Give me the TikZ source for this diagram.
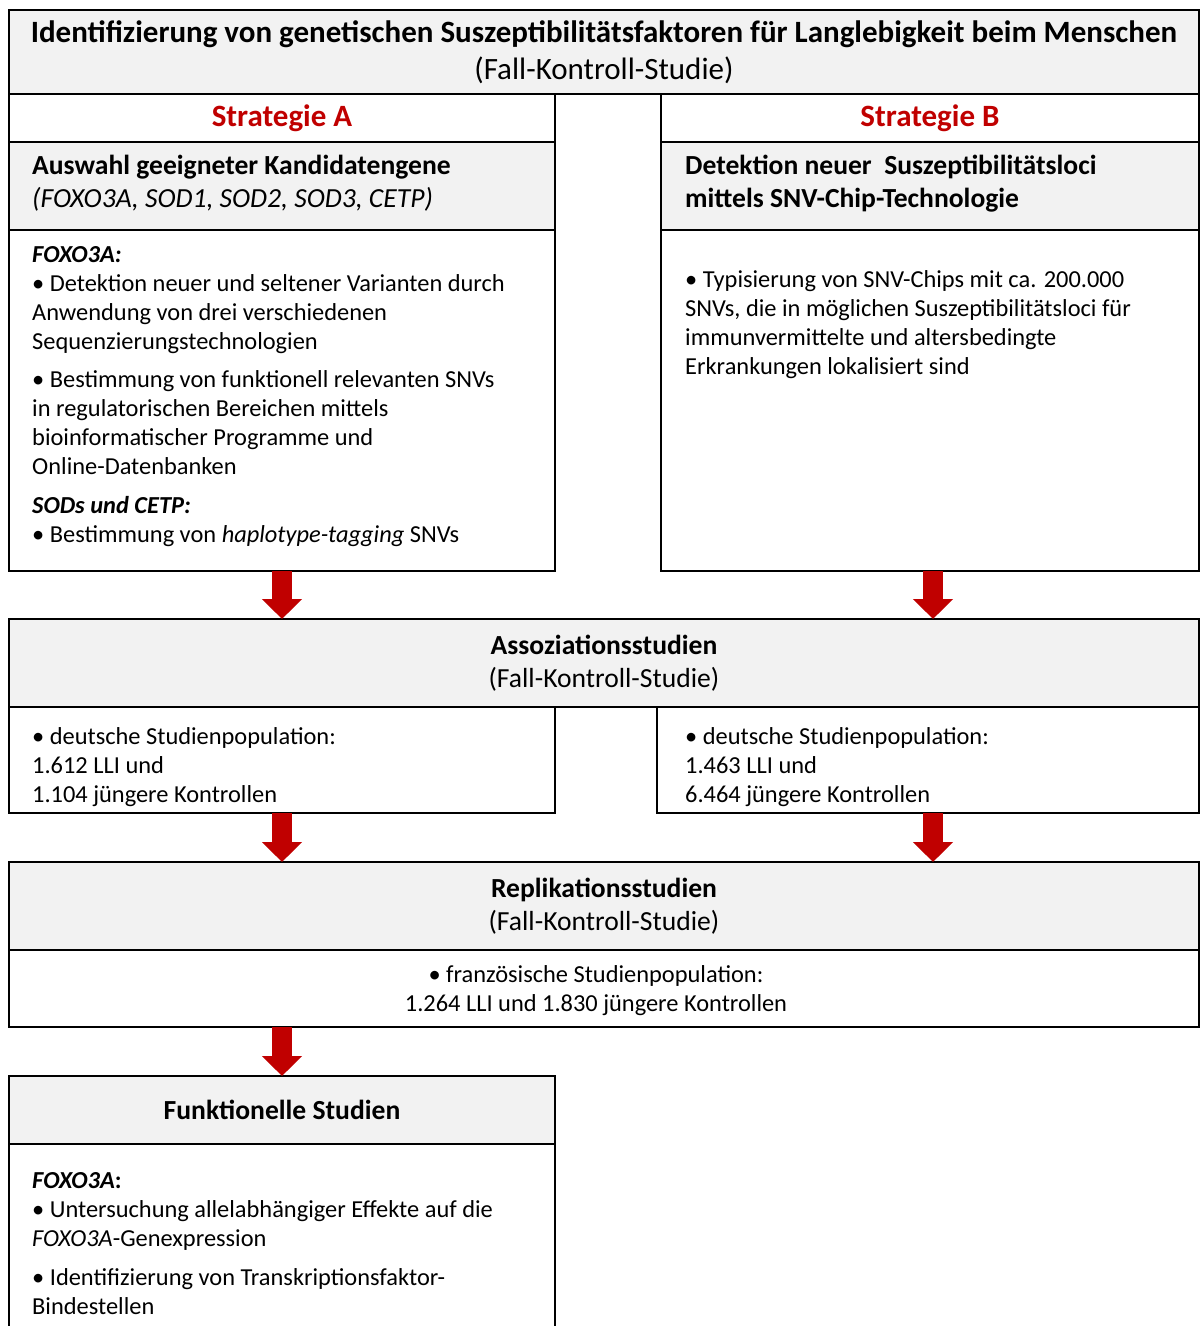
\documentclass[tikz,border=0pt]{standalone}
\usepackage{fontspec}
\setmainfont{Carlito}
\usetikzlibrary{arrows.meta}
\definecolor{boxgray}{HTML}{F2F2F2}
\definecolor{stratred}{HTML}{C00000}
\newcommand{\bodyfont}{\fontsize{24.4}{29}\selectfont}
\newcommand{\headfont}{\fontsize{27.6}{33}\selectfont}
\newcommand{\bigfont}{\fontsize{31}{37}\selectfont}

\begin{document}
\begin{tikzpicture}[x=1pt,y=-1pt,line join=miter,
    box/.style={draw=black,line width=2pt,outer sep=0pt,inner sep=0pt,anchor=north west,align=center,font=\headfont},
    graybox/.style={box,fill=boxgray},
    txt/.style={inner sep=0pt,align=left,anchor=north west,font=\bodyfont},
    headtxt/.style={txt,font=\headfont},
    downarrow/.style={draw=stratred,line width=20pt,-{Triangle[width=39pt,length=20pt]}}]
    \useasboundingbox (0,0) rectangle (1200,1326);
    % Kopf
    \node[graybox,minimum width=1190pt,minimum height=84pt,font=\bigfont] (title) at (9,10)
        {\textbf{Identifizierung von genetischen Suszeptibilitätsfaktoren für Langlebigkeit beim Menschen}\\(Fall-Kontroll-Studie)};
    % Strategie A
    \node[box,minimum width=546pt,minimum height=48pt,text=stratred,font=\bigfont] (stratA) at (9,94) {\textbf{Strategie A}};
    \node[graybox,minimum width=546pt,minimum height=88pt] (auswahl) at (9,142) {};
    \node[headtxt] (auswahlT) at (32,155)
        {\textbf{Auswahl geeigneter Kandidatengene}\\\textit{(FOXO3A, SOD1, SOD2, SOD3, CETP)}};
    \node[box,minimum width=546pt,minimum height=341pt] (contA) at (9,230) {};
    \node[txt] (contAT) at (32,246)
        {\textbf{\textit{FOXO3A:}}\\
         \textbullet{} Detektion neuer und seltener Varianten durch\\
         Anwendung von drei verschiedenen\\
         Sequenzierungstechnologien\\[9pt]
         \textbullet{} Bestimmung von funktionell relevanten SNVs\\
         in regulatorischen Bereichen mittels\\
         bioinformatischer Programme und\\
         Online-Datenbanken\\[10pt]
         \textbf{\textit{SODs und CETP:}}\\
         \textbullet{} Bestimmung von \textit{haplotype-tagging} SNVs};
    % Strategie B
    \node[box,minimum width=538pt,minimum height=48pt,text=stratred,font=\bigfont] (stratB) at (661,94) {\textbf{Strategie B}};
    \node[graybox,minimum width=538pt,minimum height=88pt] (detekt) at (661,142) {};
    \node[headtxt] (detektT) at (685,155)
        {\textbf{Detektion neuer\ \ Suszeptibilitätsloci}\\\textbf{mittels SNV-Chip-Technologie}};
    \node[box,minimum width=538pt,minimum height=341pt] (contB) at (661,230) {};
    \node[txt] (contBT) at (685,270)
        {\textbullet{} Typisierung von SNV-Chips mit ca. 200.000\\
         SNVs, die in möglichen Suszeptibilitätsloci für\\
         immunvermittelte und altersbedingte\\
         Erkrankungen lokalisiert sind};
    % Assoziationsstudien
    \node[graybox,minimum width=1190pt,minimum height=88pt] (assoz) at (9,619)
        {\textbf{Assoziationsstudien}\\(Fall-Kontroll-Studie)};
    \node[box,minimum width=546pt,minimum height=106pt] (assozA) at (9,707) {};
    \node[txt] (assozAT) at (32,727)
        {\textbullet{} deutsche Studienpopulation:\\1.612 LLI und\\1.104 jüngere Kontrollen};
    \node[box,minimum width=542pt,minimum height=106pt] (assozB) at (657,707) {};
    \node[txt] (assozBT) at (685,727)
        {\textbullet{} deutsche Studienpopulation:\\1.463 LLI und\\6.464 jüngere Kontrollen};
    % Replikationsstudien
    \node[graybox,minimum width=1190pt,minimum height=88pt] (repl) at (9,862)
        {\textbf{Replikationsstudien}\\(Fall-Kontroll-Studie)};
    \node[box,minimum width=1190pt,minimum height=77pt] (franz) at (9,950) {};
    \node[txt,align=center,anchor=center] (franzT) at (596,991)
        {\textbullet{} französische Studienpopulation:\\1.264 LLI und 1.830 jüngere Kontrollen};
    % Funktionelle Studien
    \node[graybox,minimum width=546pt,minimum height=68pt] (funkt) at (9,1076) {\textbf{Funktionelle Studien}};
    \node[box,minimum width=546pt,minimum height=200pt] (contF) at (9,1144) {};
    \node[txt] (contFT) at (32,1172)
        {\textbf{\textit{FOXO3A}:}\\
         \textbullet{} Untersuchung allelabhängiger Effekte auf die\\
         \textit{FOXO3A}-Genexpression\\[10pt]
         \textbullet{} Identifizierung von Transkriptionsfaktor-\\
         Bindestellen};
    % Pfeile
    \coordinate (rcolA) at ([xshift=3pt]contB.south);
    \coordinate (rcolB) at ([xshift=5pt]assozB.south);
    \draw[downarrow] (contA.south) -- (assoz.north -| contA.south);
    \draw[downarrow] (rcolA) -- (assoz.north -| rcolA);
    \draw[downarrow] (assozA.south) -- (repl.north -| assozA.south);
    \draw[downarrow] (rcolB) -- (repl.north -| rcolB);
    \draw[downarrow] (franz.south -| funkt.north) -- (funkt.north);
\end{tikzpicture}
\end{document}
